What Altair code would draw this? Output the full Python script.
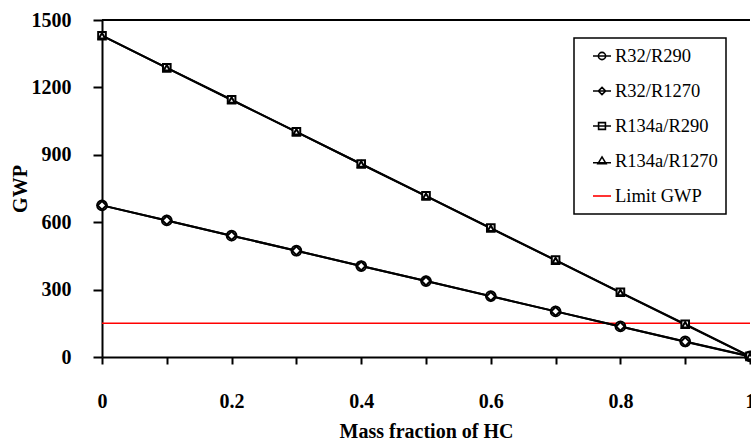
import altair as alt
import pandas as pd

# ---- data ----
mass_fraction = [0.0, 0.1, 0.2, 0.3, 0.4, 0.5, 0.6, 0.7, 0.8, 0.9, 1.0]
r32_r290 = [675, 608, 540, 473, 405, 338, 271, 203, 136, 69, 3]
r32_r1270 = [675, 608, 540, 473, 405, 338, 270, 203, 136, 68, 2]
r134a_r290 = [1430, 1287, 1145, 1002, 859, 717, 574, 431, 288, 146, 3]
r134a_r1270 = [1430, 1287, 1144, 1002, 859, 716, 573, 430, 287, 144, 2]
limit_gwp = 150

series_names = ["R32/R290", "R32/R1270", "R134a/R290", "R134a/R1270"]
legend_names = series_names + ["Limit GWP"]
x_ticks = [0.0, 0.1, 0.2, 0.3, 0.4, 0.5, 0.6, 0.7, 0.8, 0.9, 1.0]
y_ticks = [0, 150, 300, 450, 600, 750, 900, 1050, 1200, 1350, 1500]

rows = []
for name, vals in zip(series_names, [r32_r290, r32_r1270, r134a_r290, r134a_r1270]):
    for x, v in zip(mass_fraction, vals):
        rows.append({"x": x, "gwp": v, "series": name})
df = pd.DataFrame(rows)
legend_df = pd.DataFrame({"label": legend_names})
limit_df = pd.DataFrame({"limit": [limit_gwp]})
top_df = pd.DataFrame({"top": [1500]})

FONT = "Liberation Serif"

xenc = alt.X(
    "x:Q",
    scale=alt.Scale(domain=[0, 1], nice=False, zero=False),
    axis=alt.Axis(
        values=x_ticks,
        format=".1~f",
        labelExpr="(round(datum.value*10) % 2 == 0) ? datum.label : ''",
        title="Mass fraction of HC",
        grid=False,
        tickSize=7, tickWidth=2, tickColor="black",
        domainWidth=2, domainColor="black",
        labelFont=FONT, labelFontWeight="bold", labelFontSize=20, labelColor="black",
        labelPadding=27, labelFlush=False,
        titleFont=FONT, titleFontWeight="bold", titleFontSize=20, titleColor="black",
        titlePadding=10,
    ),
)
yenc = alt.Y(
    "gwp:Q",
    scale=alt.Scale(domain=[0, 1500], nice=False),
    axis=alt.Axis(
        values=y_ticks,
        format="d",
        labelExpr="(datum.value % 300 == 0) ? datum.label : ''",
        title="GWP",
        grid=False,
        tickSize=9, tickWidth=2, tickColor="black",
        domainWidth=2, domainColor="black",
        labelFont=FONT, labelFontWeight="bold", labelFontSize=20, labelColor="black",
        labelPadding=22,
        titleFont=FONT, titleFontWeight="bold", titleFontSize=20, titleColor="black",
        titlePadding=1,
    ),
)

base = alt.Chart(df)

lines = base.mark_line(color="black", strokeWidth=2).encode(
    x=xenc, y=yenc, detail="series:N"
)

points = base.mark_point(filled=False, fill="white", stroke="black", strokeWidth=2, opacity=1).encode(
    x=xenc,
    y=yenc,
    shape=alt.Shape(
        "series:N",
        scale=alt.Scale(domain=series_names, range=["circle", "diamond", "square", "triangle-up"]),
        legend=None,
    ),
    size=alt.Size(
        "series:N",
        scale=alt.Scale(domain=series_names, range=[95, 40, 100, 35]),
        legend=None,
    ),
)

limit_rule = alt.Chart(limit_df).mark_rule(color="#ff0000", strokeWidth=1.5).encode(
    y=alt.Y("limit:Q", scale=alt.Scale(domain=[0, 1500], nice=False))
)

top_rule = alt.Chart(top_df).mark_rule(color="black", strokeWidth=2).encode(
    y=alt.Y("top:Q", scale=alt.Scale(domain=[0, 1500], nice=False))
)

legend_paths = [
    "M-1,0L1,0M0.4,0A0.4,0.4,0,1,1,-0.4,0A0.4,0.4,0,1,1,0.4,0Z",
    "M-1,0L1,0M0,-0.4L0.4,0L0,0.4L-0.4,0Z",
    "M-1,0L1,0M-0.38,-0.38L0.38,-0.38L0.38,0.38L-0.38,0.38Z",
    "M-1,0.2L1,0.2M0,-0.45L0.45,0.3L-0.45,0.3Z",
    "M-1,0L1,0",
]

leg = alt.Legend(title=None, labelFont=FONT, labelFontSize=18.5, labelColor="black")

legend_layer = alt.Chart(legend_df).mark_point(filled=False, opacity=0, strokeWidth=1.8).encode(
    shape=alt.Shape(
        "label:N",
        scale=alt.Scale(domain=legend_names, range=legend_paths),
        legend=leg,
    ),
    color=alt.Color(
        "label:N",
        scale=alt.Scale(domain=legend_names, range=["black", "black", "black", "black", "#ff0000"]),
        legend=leg,
    ),
)

chart = (
    alt.layer(limit_rule, top_rule, lines, points, legend_layer)
    .resolve_scale(shape="independent", size="independent", color="independent")
    .properties(
        width=648,
        height=337,
        autosize=alt.AutoSizeParams(type="none"),
        padding={"left": 102, "top": 20, "right": 1, "bottom": 84},
        background="white",
    )
    .configure(font=FONT)
    .configure_view(stroke=None)
    .configure_legend(
        orient="none",
        legendX=472,
        legendY=18,
        strokeColor="black",
        strokeWidth=1.5,
        padding=8,
        symbolOffset=10,
        rowPadding=15,
        labelOffset=3,
        labelFont=FONT,
        labelFontSize=18.5,
        labelColor="black",
        symbolSize=324,
        symbolStrokeWidth=1.6,
        symbolOpacity=1,
        symbolFillColor="white",
        labelLimit=300,
    )
)

chart.save("out.html", embed_options={"renderer": "svg", "actions": False})
